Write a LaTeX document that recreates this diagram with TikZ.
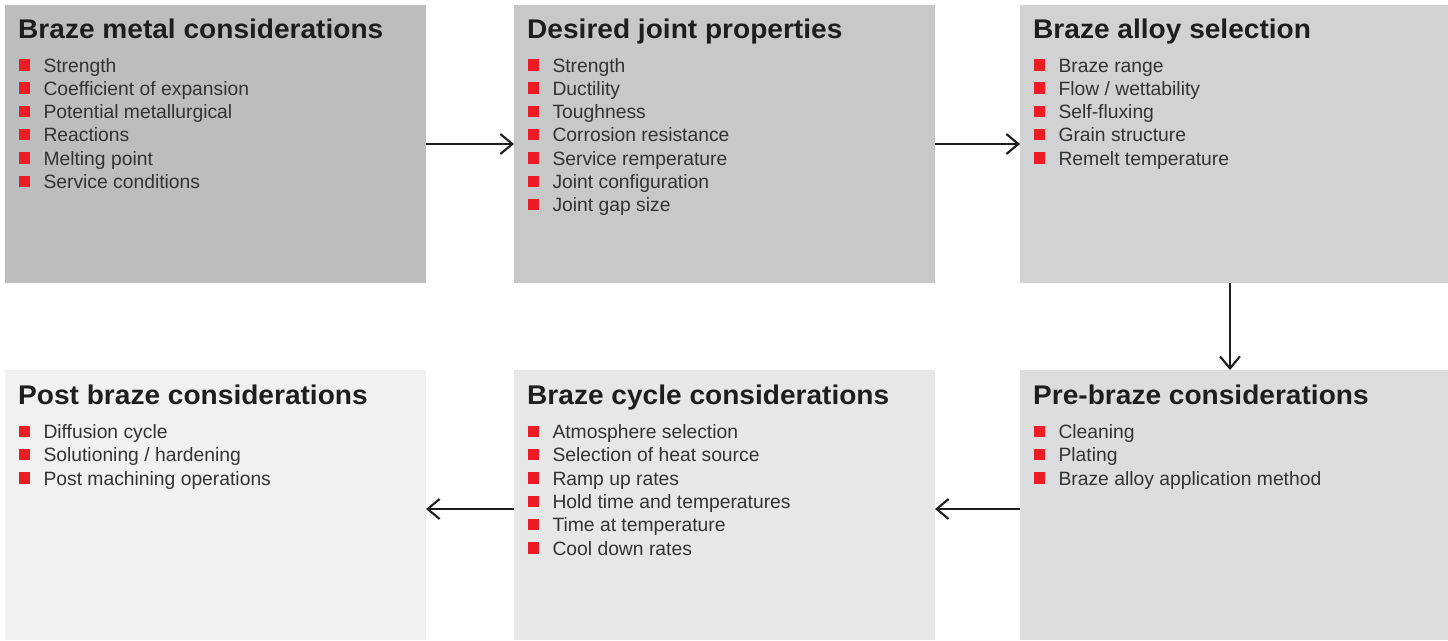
\documentclass[tikz,border=0pt]{standalone}
\usepackage{fontspec}
\setmainfont{Liberation Sans}
\newfontfamily\titlefont[FakeStretch=1.04]{Liberation Sans}
\usetikzlibrary{arrows.meta}
\definecolor{bred}{HTML}{ED1C24}
\definecolor{ttxt}{HTML}{1E1E1E}
\definecolor{itxt}{HTML}{333333}
\definecolor{cA}{HTML}{BCBDBF}
\definecolor{cB}{HTML}{C7C8CA}
\definecolor{cC}{HTML}{D1D2D4}
\definecolor{cD}{HTML}{DCDDDE}
\definecolor{cE}{HTML}{E6E7E8}
\definecolor{cF}{HTML}{F1F1F1}
\tikzset{
 box/.style={fill=#1, draw=none, anchor=north west, inner sep=0, outer sep=0},
 ttl/.style={anchor=base west, inner sep=0, font=\titlefont\fontsize{27}{30}\selectfont\bfseries, text=ttxt},
 itm/.style={anchor=base west, inner sep=0, font=\fontsize{19.3}{22}\selectfont, text=itxt},
 bul/.style={fill=bred, minimum size=11.4pt, inner sep=0, anchor=south west},
 conn/.style={-{Straight Barb[length=12pt,width=20pt]}, line width=2.1pt, draw=ttxt}
}
\newcommand\flowbox[6]{% name, x, y, w, h, color
 \node[box=#6, minimum width=#4pt, minimum height=#5pt] (#1) at (#2,#3) {};
}
\newcommand\boxtext[4]{% name, dy, title, items
 \node[ttl] (#1-t) at ([xshift=13pt,yshift={-33pt-#2pt}]#1.north west) {#3};
 \foreach \itemtxt [count=\i, evaluate=\i as \yy using -67-#2-(\i-1)*23.3, evaluate=\i as \by using -65.7-#2-(\i-1)*23.3] in {#4} {
  \node[bul] (#1-b\i) at ([xshift=13.3pt,yshift=\by pt]#1.north west) {};
  \node[itm] (#1-\i) at ([xshift=38.3pt,yshift=\yy pt]#1.north west) {\itemtxt};
 }
}
\begin{document}
\begin{tikzpicture}[x=1pt,y=-1pt]
\useasboundingbox (0,0) rectangle (1448,640);
\fill[white] (0,0) rectangle (1448,640);
\flowbox{b1}{5}{5}{421}{278}{cA}
\flowbox{b2}{514}{5}{421}{278}{cB}
\flowbox{b3}{1020}{5}{428}{278}{cC}
\flowbox{b4}{1020}{370}{428}{270}{cD}
\flowbox{b5}{514}{370}{421}{270}{cE}
\flowbox{b6}{5}{370}{421}{270}{cF}
\boxtext{b1}{0}{Braze metal considerations}{Strength,Coefficient of expansion,Potential metallurgical,Reactions,Melting point,Service conditions}
\boxtext{b2}{0}{Desired joint properties}{Strength,Ductility,Toughness,Corrosion resistance,Service remperature,Joint configuration,Joint gap size}
\boxtext{b3}{0}{Braze alloy selection}{Braze range,Flow / wettability,Self-fluxing,Grain structure,Remelt temperature}
\boxtext{b4}{1.5}{Pre-braze considerations}{Cleaning,Plating,Braze alloy application method}
\boxtext{b5}{1.5}{Braze cycle considerations}{Atmosphere selection,Selection of heat source,Ramp up rates,Hold time and temperatures,Time at temperature,Cool down rates}
\boxtext{b6}{1.5}{Post braze considerations}{Diffusion cycle,Solutioning / hardening,Post machining operations}
\draw[conn] (b1.east) -- (b2.west);
\draw[conn] (b2.east) -- (b3.west);
\draw[conn] ([xshift=-4pt]b3.south) -- ([xshift=-4pt]b4.north);
\draw[conn] ([yshift=-4pt]b4.west) -- ([yshift=-4pt]b5.east);
\draw[conn] ([yshift=-4pt]b5.west) -- ([yshift=-4pt]b6.east);
\end{tikzpicture}
\end{document}
